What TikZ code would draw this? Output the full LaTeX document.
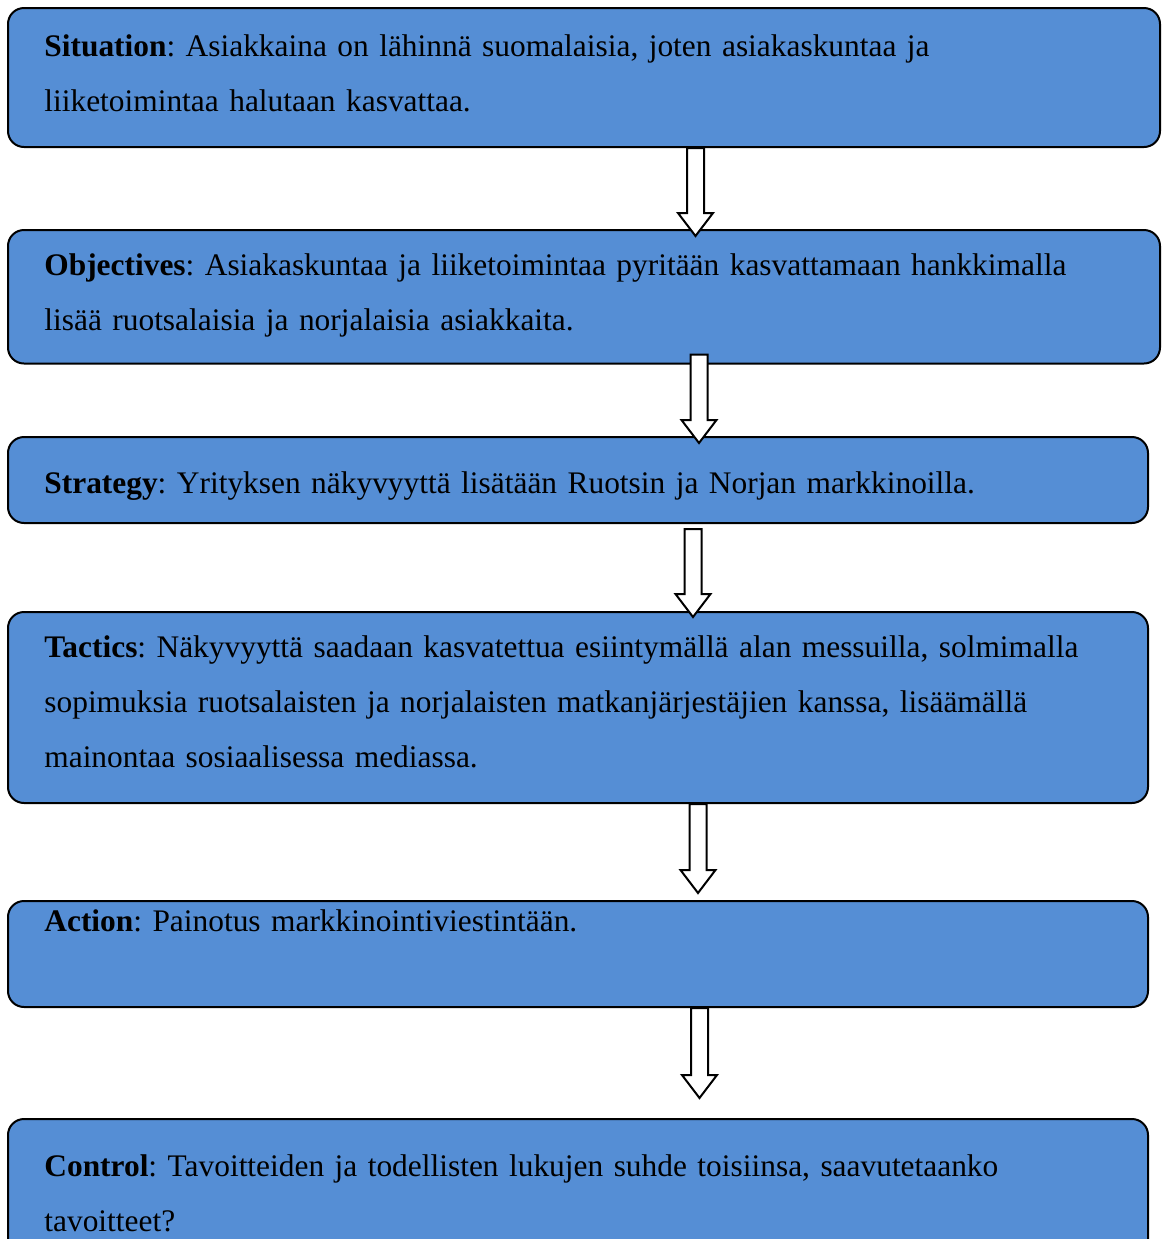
\documentclass[tikz,border=0pt]{standalone}
\usepackage{fontspec}
\setmainfont{Liberation Serif}
\usetikzlibrary{calc, fit}

\definecolor{boxblue}{RGB}{85,142,213}

\tikzset{
  box/.style={draw=black, line width=1pt, fill=boxblue, rounded corners=8pt, inner sep=0pt},
  boxtext/.style={anchor=north west, inner sep=0pt, align=left, text width=570pt,
    font=\fontsize{15.7}{27.5}\selectfont\frenchspacing},
  hollow/.style={draw=black, line width=1pt, fill=white, line join=miter}
}

% block arrow from shaft top #1 down to tip #2
\newcommand{\hollowarrow}[2]{%
  \draw[hollow] let \p1=(#1), \p2=(#2) in
    (\x1-4.25pt,\y1) -- (\x1+4.25pt,\y1) -- (\x1+4.25pt,\y2+11.5pt)
    -- (\x1+8.75pt,\y2+11.5pt) -- (\x1,\y2) -- (\x1-8.75pt,\y2+11.5pt)
    -- (\x1-4.25pt,\y2+11.5pt) -- cycle;}

\begin{document}
\begin{tikzpicture}[x=0.5pt,y=-0.5pt]
\useasboundingbox (0,0) rectangle (1165,1239);
\clip (0,0) rectangle (1165,1239);

% boxes
\node[box, fit={(8,8) (1160,147)}] (sit) {};
\node[box, fit={(8,230) (1160,363.5)}] (obj) {};
\node[box, fit={(8,437) (1148,523)}] (str) {};
\node[box, fit={(8,612) (1148,803)}] (tac) {};
\node[box, fit={(8,901) (1148,1007)}] (act) {};
\node[box, fit={(8,1119) (1148,1262)}] (con) {};

% texts
\node[boxtext] (sit-t) at ($(sit.north west)+(37,10.8)$) {\strut\textbf{Situation}: Asiakkaina on lähinnä suomalaisia, joten asiakaskuntaa ja\\
liiketoimintaa halutaan kasvattaa.};
\node[boxtext] (obj-t) at ($(obj.north west)+(37,7.5)$) {\strut\textbf{Objectives}: Asiakaskuntaa ja liiketoimintaa pyritään kasvattamaan hankkimalla\\
lisää ruotsalaisia ja norjalaisia asiakkaita.};
\node[boxtext] (str-t) at ($(str.north west)+(37,18.8)$) {\strut\textbf{Strategy}: Yrityksen näkyvyyttä lisätään Ruotsin ja Norjan markkinoilla.};
\node[boxtext] (tac-t) at ($(tac.north west)+(37,7.8)$) {\strut\textbf{Tactics}: Näkyvyyttä saadaan kasvatettua esiintymällä alan messuilla, solmimalla\\
sopimuksia ruotsalaisten ja norjalaisten matkanjärjestäjien kanssa, lisäämällä\\
mainontaa sosiaalisessa mediassa.};
\node[boxtext] (act-t) at ($(act.north west)+(37,-7.8)$) {\strut\textbf{Action}: Painotus markkinointiviestintään.};
\node[boxtext] (con-t) at ($(con.north west)+(37,19.8)$) {\strut\textbf{Control}: Tavoitteiden ja todellisten lukujen suhde toisiinsa, saavutetaanko\\
tavoitteet?};

% arrows
\coordinate (a1s) at ($(sit.south)+(111.5,0)$);
\coordinate (a1e) at ($(a1s |- obj.north)+(0,7)$);
\coordinate (a2s) at ($(obj.south)+(115,-10)$);
\coordinate (a2e) at ($(a2s |- str.north)+(0,7)$);
\coordinate (a3s) at ($(str.south)+(115,5)$);
\coordinate (a3e) at ($(a3s |- tac.north)+(0,6)$);
\coordinate (a4s) at ($(tac.south)+(120,0)$);
\coordinate (a4e) at ($(a4s |- act.north)+(0,-7)$);
\coordinate (a5s) at ($(act.south)+(121.5,0)$);
\coordinate (a5e) at ($(a5s |- con.north)+(0,-20)$);
\hollowarrow{a1s}{a1e}
\hollowarrow{a2s}{a2e}
\hollowarrow{a3s}{a3e}
\hollowarrow{a4s}{a4e}
\hollowarrow{a5s}{a5e}
\end{tikzpicture}
\end{document}
